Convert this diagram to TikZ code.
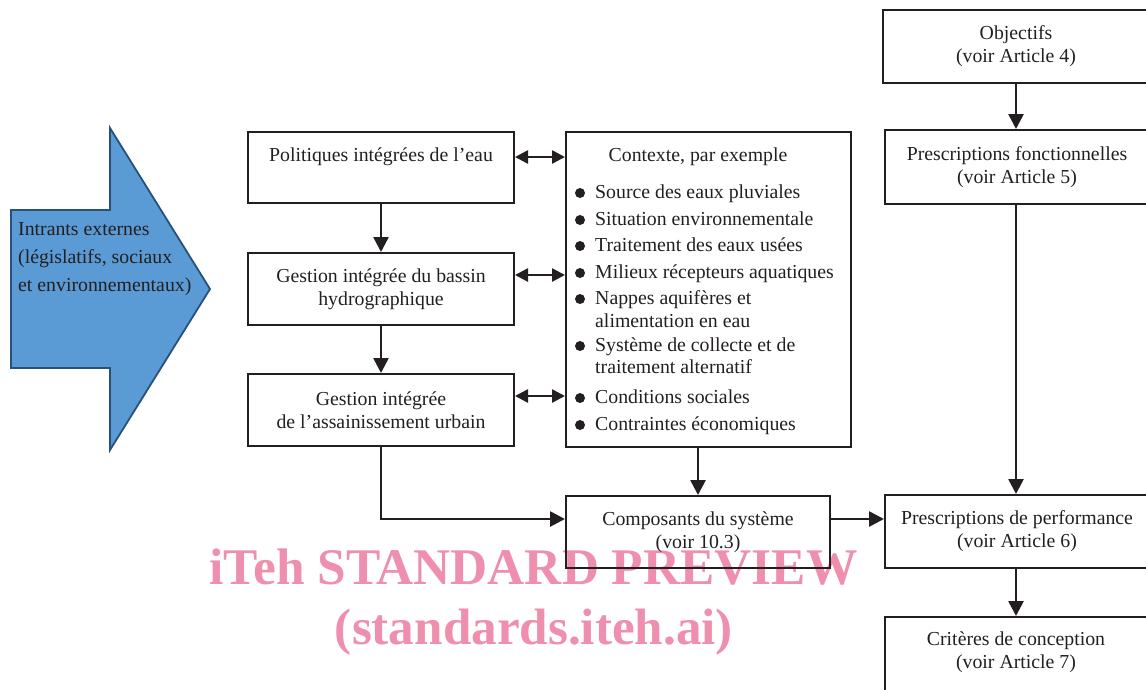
\documentclass[tikz,border=0pt]{standalone}
\usepackage{fontspec}
\setmainfont{Liberation Serif}
\usetikzlibrary{arrows.meta}
\definecolor{linec}{HTML}{231F20}
\definecolor{arrowfill}{HTML}{5B9BD5}
\definecolor{arrowdraw}{HTML}{27507A}
\definecolor{wmark}{HTML}{EF8FAE}
\newcommand{\mainf}{\fontsize{19.8}{23}\selectfont}
\begin{document}
\begin{tikzpicture}[x=1pt,y=-1pt,
  box/.style={draw=linec,line width=2pt,inner sep=0pt,align=center,font=\mainf,text=linec},
  txt/.style={inner sep=0pt,font=\mainf,text=linec},
  bul/.style={circle,fill=linec,inner sep=0pt,minimum size=10pt},
  arr/.style={draw=linec,line width=2.6pt,-{Triangle[length=15pt,width=15pt]}},
  darr/.style={draw=linec,line width=2.6pt,{Triangle[length=13pt,width=13pt]}-{Triangle[length=13pt,width=13pt]}},
  wm/.style={inner sep=0pt,text=wmark,font=\bfseries}]
\useasboundingbox (0,0) rectangle (1146,689);
\clip (0,0) rectangle (1146,689);

% watermark (behind)
\node[wm] (wm1) at (533.5,567) {\resizebox{648pt}{!}{iTeh STANDARD PREVIEW}};
\node[wm] (wm2) at (534,632) {\resizebox{398pt}{!}{(standards.iteh.ai)}};

% big blue arrow
\draw[fill=arrowfill,draw=arrowdraw,line width=1.8pt,line join=miter]
  (11,210) -- (110,210) -- (110,128) -- (210,289) -- (110,450) -- (110,368) -- (11,368) -- cycle;
\node[txt,anchor=north west,align=left,font=\fontsize{19.8}{28}\selectfont] (intr) at (18,222)
  {Intrants externes\\(législatifs, sociaux\\et environnementaux)};

% left column
\node[box,minimum width=266pt,minimum height=71pt] (pol) at (381,167.5) {};
\node[txt] (polt) at (381,157) {Politiques intégrées de l’eau};
\node[box,minimum width=266pt,minimum height=72pt] (gb) at (381,289) {Gestion intégrée du bassin\\hydrographique};
\node[box,minimum width=266pt,minimum height=72pt] (ga) at (381,410) {Gestion intégrée\\de l’assainissement urbain};

% context box
\node[box,minimum width=285pt,minimum height=315pt] (ctx) at (708.5,289.5) {};
\node[txt] (ctxt) at (698,157) {Contexte, par exemple};
\foreach \y/\t [count=\i] in {192/Source des eaux pluviales,219/Situation environnementale,245/Traitement des eaux usées,272/Milieux récepteurs aquatiques,298/Nappes aquifères et,345/Système de collecte et de,397/Conditions sociales,424/Contraintes économiques}{
  \node[bul] (b\i) at (580,\y+1) {};
  \node[txt,anchor=base west] (c\i) at (595,\y+6) {\t};
}
\node[txt,anchor=base west] (c5b) at (595,327) {alimentation en eau};
\node[txt,anchor=base west] (c6b) at (595,373) {traitement alternatif};

% composants
\node[box,minimum width=264pt,minimum height=72pt] (comp) at (698,532) {Composants du système\\(voir 10.3)};

% right column
\node[box,minimum width=266pt,minimum height=73pt] (obj) at (1016,46.5) {Objectifs\\(voir Article 4)};
\node[box,minimum width=264pt,minimum height=74pt] (pf) at (1017,167) {Prescriptions fonctionnelles\\(voir Article 5)};
\node[box,minimum width=264pt,minimum height=73pt] (pp) at (1017,531.5) {Prescriptions de performance\\(voir Article 6)};
\node[box,minimum width=264pt,minimum height=78pt] (crit) at (1017,656) {};
\node[txt,align=center] (critt) at (1016,652) {Critères de conception\\(voir Article 7)};

% connectors
\draw[arr] (obj.south -| 1016,0) -- (pf.north -| 1016,0);
\draw[arr] (pf.south -| 1016,0) -- (pp.north -| 1016,0);
\draw[arr] (pp.south -| 1016,0) -- (crit.north -| 1016,0);
\draw[arr] (pol) -- (gb);
\draw[arr] (gb) -- (ga);
\draw[arr] (ga.south) |- ([yshift=13pt]comp.west);
\draw[arr] ([yshift=13pt]comp.east) -- ([yshift=13pt]comp.east -| pp.west);
\draw[arr] (comp.north |- ctx.south) -- (comp.north);
\draw[darr] ([yshift=10.5pt]pol.east) -- ([yshift=10.5pt]pol.east -| ctx.west);
\draw[darr] ([yshift=14pt]gb.east) -- ([yshift=14pt]gb.east -| ctx.west);
\draw[darr] ([yshift=14pt]ga.east) -- ([yshift=14pt]ga.east -| ctx.west);
\end{tikzpicture}
\end{document}
